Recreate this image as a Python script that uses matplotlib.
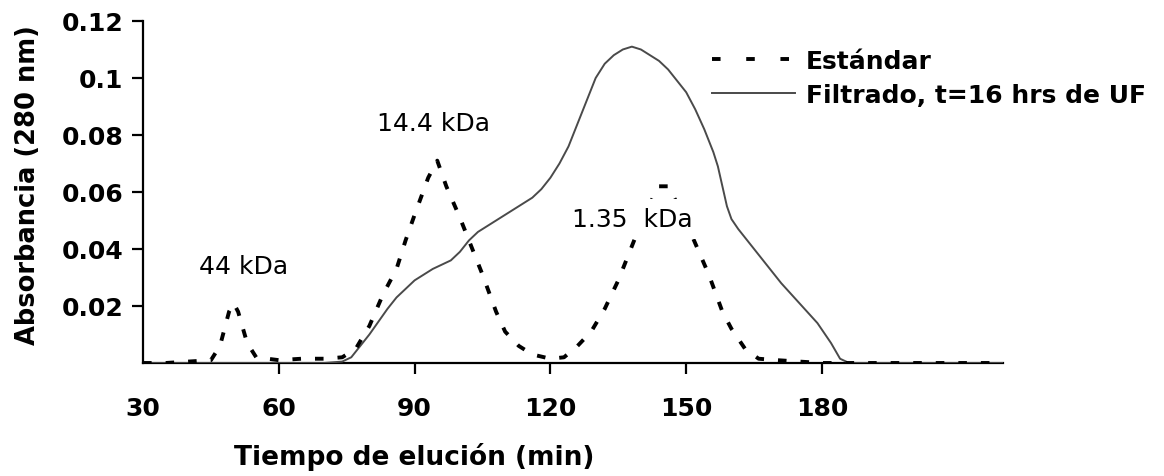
import matplotlib
matplotlib.use('Agg')
import matplotlib.pyplot as plt
from matplotlib.lines import Line2D

# Elution time (min) and absorbance
std_time = [30, 35, 40, 45, 47, 49, 50, 51, 53, 55, 60, 65, 70, 74, 77, 80, 83, 86, 88,
            90, 93, 95, 97, 100, 103, 105, 108, 110, 113, 116, 120, 123, 126, 129, 132,
            135, 138, 141, 144, 146, 149, 152, 155, 158, 160, 163, 166, 170, 175, 180,
            190, 200, 210, 220]
std_abs = [0.0, 0.0, 0.0005, 0.001, 0.006, 0.018, 0.021, 0.018, 0.007, 0.002, 0.001,
           0.0015, 0.0015, 0.002, 0.005, 0.013, 0.024, 0.033, 0.043, 0.052, 0.065, 0.071,
           0.062, 0.051, 0.039, 0.031, 0.018, 0.011, 0.006, 0.003, 0.0015, 0.002, 0.006,
           0.011, 0.019, 0.029, 0.041, 0.053, 0.062, 0.062, 0.053, 0.042, 0.031, 0.018,
           0.012, 0.005, 0.0015, 0.001, 0.0005, 0.0, 0.0, 0.0, 0.0, 0.0]

filt_time = [30, 40, 50, 60, 70, 74, 76, 78, 80, 82, 84, 86, 88, 90, 92, 94, 96, 98,
             100, 102, 104, 106, 108, 110, 112, 114, 116, 118, 120, 122, 124, 126, 128,
             130, 132, 134, 136, 138, 140, 142, 144, 146, 148, 150, 152, 154, 156, 157,
             158, 159, 160, 161.5, 163, 165, 168, 171, 175, 179, 182, 184, 186, 200, 220]
filt_abs = [0.0, 0.0, 0.0, 0.0, 0.0, 0.0005, 0.002, 0.006, 0.010, 0.0145, 0.019, 0.023,
            0.026, 0.029, 0.031, 0.033, 0.0345, 0.036, 0.039, 0.043, 0.046, 0.048, 0.050,
            0.052, 0.054, 0.056, 0.058, 0.061, 0.065, 0.070, 0.076, 0.084, 0.092, 0.100,
            0.105, 0.108, 0.110, 0.111, 0.110, 0.108, 0.106, 0.103, 0.099, 0.095, 0.089,
            0.082, 0.074, 0.069, 0.062, 0.055, 0.0505, 0.047, 0.044, 0.040, 0.034, 0.028,
            0.021, 0.014, 0.007, 0.0015, 0.0, 0.0, 0.0]

x_ticks = [30, 60, 90, 120, 150, 180]
y_ticks = [0.02, 0.04, 0.06, 0.08, 0.1, 0.12]
y_ticklabels = ['0.02', '0.04', '0.06', '0.08', '0.1', '0.12']

# peak labels: text, time, absorbance
peak_labels = ['44 kDa', '14.4 kDa', '1.35  kDa']
peak_t = [52.1, 94.2, 138.1]
peak_a = [0.034, 0.0842, 0.0505]

fig = plt.figure(figsize=(11.64, 4.77), dpi=100)
ax = fig.add_axes([0.1229, 0.2369, 0.7388, 0.7170])

std_dash = (0, (2.2, 3.6))
ax.plot(std_time, std_abs, color='black', lw=2.8, linestyle=std_dash, zorder=4)
ax.plot(filt_time, filt_abs, color='#4a4a4a', lw=1.4, zorder=3)

for lab, t, a in zip(peak_labels, peak_t, peak_a):
    ax.text(t, a, lab, fontsize=18, ha='center', va='center', zorder=5,
            bbox=dict(facecolor='white', edgecolor='none', pad=6))

ax.set_xlim(30, 220)
ax.set_ylim(0, 0.12)
ax.set_xticks(x_ticks)
ax.set_xticklabels([str(v) for v in x_ticks])
ax.set_yticks(y_ticks)
ax.set_yticklabels(y_ticklabels)

for s in ['top', 'right']:
    ax.spines[s].set_visible(False)
for s in ['left', 'bottom']:
    ax.spines[s].set_linewidth(1.6)
    ax.spines[s].set_zorder(2)

ax.tick_params(axis='both', direction='out', length=8, width=1.6, labelsize=18)
ax.tick_params(axis='x', pad=16)
ax.tick_params(axis='y', pad=6)
for lbl in ax.get_xticklabels() + ax.get_yticklabels():
    lbl.set_fontweight('bold')
ax.xaxis.get_major_ticks()[0].tick1line.set_visible(False)

fig.text(0.3561, 0.042, 'Tiempo de elución (min)', fontsize=19, fontweight='bold',
         ha='center', va='center')
fig.text(0.024, 0.612, 'Absorbancia (280 nm)', fontsize=18.5, fontweight='bold',
         rotation=90, ha='center', va='center')

handles = [Line2D([], [], color='black', lw=2.8, linestyle=(0, (2.2, 6.6))),
           Line2D([], [], color='#4a4a4a', lw=1.4)]
leg = fig.legend(handles, ['Estándar', 'Filtrado, t=16 hrs de UF'],
                 loc='upper left', bbox_to_anchor=(712 / 1164, 1 - 50 / 477),
                 frameon=False, borderpad=0, borderaxespad=0, handlelength=3.3,
                 handletextpad=0.45, labelspacing=0.4,
                 prop={'size': 18, 'weight': 'bold'})

fig.savefig('out.png', dpi=100)
